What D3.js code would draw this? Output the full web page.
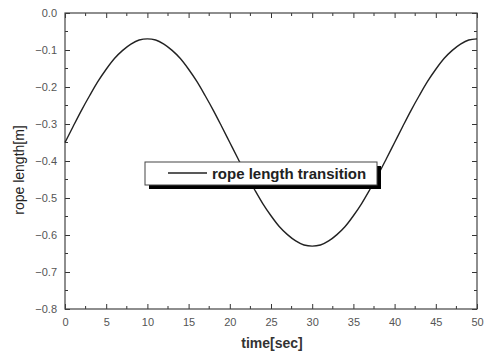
<!DOCTYPE html>
<html>
<head>
<meta charset="utf-8">
<script src="https://cdn.jsdelivr.net/npm/d3@7"></script>
<style>
  body { margin: 0; background: #fff; }
  text { font-family: "Liberation Sans", Arial, sans-serif; }
</style>
</head>
<body>
<div id="chart"></div>
<script>
// time in seconds and rope length in metres
const times = d3.range(0, 51);
const ropeLength = [
  -0.350, -0.306, -0.263, -0.223, -0.185, -0.152, -0.123, -0.101, -0.084, -0.073,
  -0.070, -0.073, -0.084, -0.101, -0.123, -0.152, -0.185, -0.223, -0.263, -0.306,
  -0.350, -0.394, -0.437, -0.477, -0.515, -0.548, -0.577, -0.599, -0.616, -0.627,
  -0.630, -0.627, -0.616, -0.599, -0.577, -0.548, -0.515, -0.477, -0.437, -0.394,
  -0.350, -0.306, -0.263, -0.223, -0.185, -0.152, -0.123, -0.101, -0.084, -0.073,
  -0.070
];
const xTicks = [0, 5, 10, 15, 20, 25, 30, 35, 40, 45, 50];
const yTicks = [0, -0.1, -0.2, -0.3, -0.4, -0.5, -0.6, -0.7, -0.8];
const seriesName = "rope length transition";

const width = 486, height = 354;
const margin = { top: 13, right: 9, bottom: 45, left: 65 };
const innerW = width - margin.left - margin.right;
const innerH = height - margin.top - margin.bottom;

const svg = d3.select("#chart").append("svg")
  .attr("width", width)
  .attr("height", height);

const g = svg.append("g")
  .attr("transform", `translate(${margin.left},${margin.top})`);

const x = d3.scaleLinear().domain([0, 50]).range([0, innerW]);
const y = d3.scaleLinear().domain([-0.8, 0]).range([innerH, 0]);

const minorX = d3.range(0, 50.01, 2.5).filter(v => v % 5 !== 0);
const minorY = d3.range(-0.8, 0.001, 0.05).map(v => +v.toFixed(2)).filter(v => Math.abs(v * 10 - Math.round(v * 10)) > 1e-6);

const tickColor = "#333";

// bottom axis with labels
const xAxis = g.append("g")
  .attr("transform", `translate(0,${innerH})`)
  .call(d3.axisBottom(x).tickValues(xTicks).tickSizeInner(-5).tickSizeOuter(0).tickPadding(9).tickFormat(d3.format("d")));
xAxis.select(".domain").remove();
xAxis.selectAll("line").attr("stroke", tickColor);
xAxis.selectAll("text").attr("font-size", 11).attr("fill", "#555");

// left axis with labels
const yAxis = g.append("g")
  .call(d3.axisLeft(y).tickValues(yTicks).tickSizeInner(-5).tickSizeOuter(0).tickPadding(8).tickFormat(d3.format(".1f")));
yAxis.select(".domain").remove();
yAxis.selectAll("line").attr("stroke", tickColor);
yAxis.selectAll("text").attr("font-size", 11).attr("fill", "#555");

// top and right mirrored ticks
const xTop = g.append("g")
  .call(d3.axisTop(x).tickValues(xTicks).tickSizeInner(-5).tickSizeOuter(0).tickFormat(""));
xTop.select(".domain").remove();
xTop.selectAll("line").attr("stroke", tickColor);

const yRight = g.append("g")
  .attr("transform", `translate(${innerW},0)`)
  .call(d3.axisRight(y).tickValues(yTicks).tickSizeInner(-5).tickSizeOuter(0).tickFormat(""));
yRight.select(".domain").remove();
yRight.selectAll("line").attr("stroke", tickColor);

// minor ticks
g.selectAll(".mxb").data(minorX).join("line")
  .attr("x1", d => x(d)).attr("x2", d => x(d))
  .attr("y1", innerH).attr("y2", innerH - 3).attr("stroke", tickColor);
g.selectAll(".mxt").data(minorX).join("line")
  .attr("x1", d => x(d)).attr("x2", d => x(d))
  .attr("y1", 0).attr("y2", 3).attr("stroke", tickColor);
g.selectAll(".myl").data(minorY).join("line")
  .attr("x1", 0).attr("x2", 3)
  .attr("y1", d => y(d)).attr("y2", d => y(d)).attr("stroke", tickColor);
g.selectAll(".myr").data(minorY).join("line")
  .attr("x1", innerW).attr("x2", innerW - 3)
  .attr("y1", d => y(d)).attr("y2", d => y(d)).attr("stroke", tickColor);

// frame
g.append("rect")
  .attr("width", innerW).attr("height", innerH)
  .attr("fill", "none").attr("stroke", "#444").attr("stroke-width", 1.2);

// the curve
const line = d3.line()
  .x((d, i) => x(times[i]))
  .y(d => y(d))
  .curve(d3.curveMonotoneX);

g.append("path")
  .datum(ropeLength)
  .attr("d", line)
  .attr("fill", "none")
  .attr("stroke", "#222")
  .attr("stroke-width", 1.4);

// legend
const legend = svg.append("g").attr("transform", "translate(145,162)");
legend.append("rect")
  .attr("x", 4).attr("y", 4).attr("width", 232).attr("height", 23)
  .attr("fill", "#000");
legend.append("rect")
  .attr("x", 0).attr("y", 0).attr("width", 232).attr("height", 23)
  .attr("fill", "#fff").attr("stroke", "#444").attr("stroke-width", 1);
legend.append("line")
  .attr("x1", 23).attr("x2", 62).attr("y1", 11).attr("y2", 11)
  .attr("stroke", "#222").attr("stroke-width", 1.4);
legend.append("text")
  .attr("x", 67).attr("y", 16.5)
  .attr("font-size", 15)
  .attr("font-weight", "bold")
  .attr("fill", "#222")
  .text(seriesName);

// axis titles
svg.append("text")
  .attr("x", 272).attr("y", 348)
  .attr("text-anchor", "middle")
  .attr("font-size", 14)
  .attr("font-weight", "bold")
  .attr("fill", "#333")
  .text("time[sec]");

svg.append("text")
  .attr("transform", "translate(24,170) rotate(-90)")
  .attr("text-anchor", "middle")
  .attr("font-size", 14)
  .attr("fill", "#222")
  .text("rope length[m]");
</script>
</body>
</html>
